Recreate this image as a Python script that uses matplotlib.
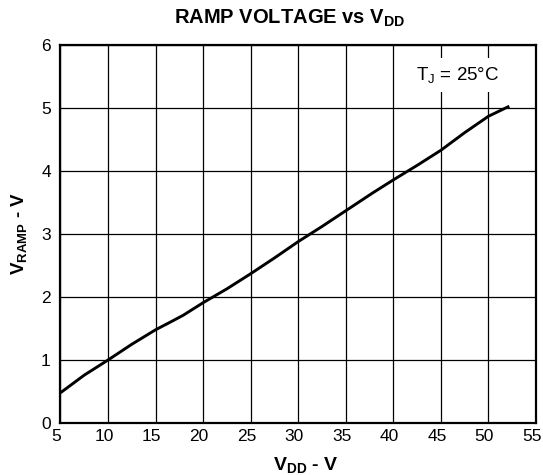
import matplotlib
matplotlib.use('Agg')
import matplotlib.pyplot as plt
import matplotlib.transforms as mtransforms

# Curve (V_DD in volts, V_RAMP in volts)
vdd = [5, 7.5, 10, 12.5, 15, 16.4, 17.9, 20, 22.5, 25, 27.5, 30,
       32.5, 35, 37.8, 40, 42.5, 45, 47.5, 50, 52.2]
vramp = [0.48, 0.76, 1.0, 1.25, 1.48, 1.59, 1.71, 1.91, 2.13, 2.37, 2.62, 2.88,
         3.12, 3.37, 3.65, 3.86, 4.09, 4.33, 4.61, 4.87, 5.03]

x_ticks = [5, 10, 15, 20, 25, 30, 35, 40, 45, 50, 55]
y_ticks = [0, 1, 2, 3, 4, 5, 6]

# Fonts
plt.rcParams['font.family'] = ['Liberation Sans', 'DejaVu Sans']
plt.rcParams['mathtext.fontset'] = 'custom'
plt.rcParams['mathtext.rm'] = 'Liberation Sans'
plt.rcParams['mathtext.it'] = 'Liberation Sans'
plt.rcParams['mathtext.bf'] = 'Liberation Sans:bold'

fig = plt.figure(figsize=(5.43, 4.75), dpi=100)
ax = fig.add_axes([0.1114, 0.1095, 0.8756, 0.7955])

# Grid
ax.set_xlim(5, 55)
ax.set_ylim(0, 6)
ax.set_xticks(x_ticks)
ax.set_yticks(y_ticks)
ax.grid(True, color='black', linewidth=0.9)
ax.tick_params(length=0, labelsize=12.5)
ax.tick_params(axis='x', pad=4)
ax.tick_params(axis='y', pad=7)
for sp in ax.spines.values():
    sp.set_linewidth(1.6)

# x tick labels sit a little left of their gridlines in the reference
shift = mtransforms.ScaledTranslation(-4 / 100, 0, fig.dpi_scale_trans)
for lbl in ax.get_xticklabels():
    lbl.set_transform(lbl.get_transform() + shift)

# Curve
ax.plot(vdd, vramp, color='black', linewidth=2.1, solid_capstyle='butt')

# Annotation
ax.text(46.8, 5.52, r'T$_\mathregular{J}$ = 25°C', fontsize=13.5, ha='center', va='center',
        bbox=dict(facecolor='white', edgecolor='none', pad=5))

# Labels
fig.text(0.534, 0.962, r'RAMP VOLTAGE vs $\mathbf{V_{DD}}$', fontsize=14.5, fontweight='bold',
         ha='center', va='center')
ax.set_xlabel(r'$\mathbf{V_{DD}}$ - V', fontsize=14, fontweight='bold', labelpad=2)
ax.xaxis.set_label_coords(0.516, -0.085)
ax.set_ylabel(r'$\mathbf{V_{RAMP}}$ - V', fontsize=13.5, fontweight='bold', labelpad=9)

fig.savefig('out.png', dpi=100)
